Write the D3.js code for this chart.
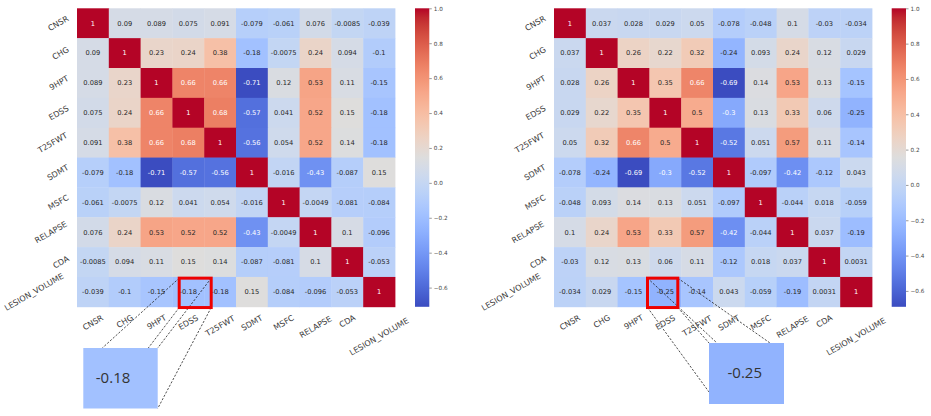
<!DOCTYPE html>
<meta charset="utf-8">
<style>
	body { margin: 0; background: #fff; }
	svg text { font-family: "DejaVu Sans", sans-serif; }
	.callout-text { font-family: "Open Sans", "Noto Sans", sans-serif; }
</style>
<body>
<svg id="chart" width="931" height="416"></svg>
<script src="https://cdn.jsdelivr.net/npm/d3@7"></script>
<script>

	var labels = ["CNSR", "CHG", "9HPT", "EDSS", "T25FWT", "SDMT", "MSFC", "RELAPSE", "CDA", "LESION_VOLUME"];

	// correlation matrix, left panel
	var leftValues = [
		[1, 0.09, 0.089, 0.075, 0.091, -0.079, -0.061, 0.076, -0.0085, -0.039],
		[0.09, 1, 0.23, 0.24, 0.38, -0.18, -0.0075, 0.24, 0.094, -0.1],
		[0.089, 0.23, 1, 0.66, 0.66, -0.71, 0.12, 0.53, 0.11, -0.15],
		[0.075, 0.24, 0.66, 1, 0.68, -0.57, 0.041, 0.52, 0.15, -0.18],
		[0.091, 0.38, 0.66, 0.68, 1, -0.56, 0.054, 0.52, 0.14, -0.18],
		[-0.079, -0.18, -0.71, -0.57, -0.56, 1, -0.016, -0.43, -0.087, 0.15],
		[-0.061, -0.0075, 0.12, 0.041, 0.054, -0.016, 1, -0.0049, -0.081, -0.084],
		[0.076, 0.24, 0.53, 0.52, 0.52, -0.43, -0.0049, 1, 0.1, -0.096],
		[-0.0085, 0.094, 0.11, 0.15, 0.14, -0.087, -0.081, 0.1, 1, -0.053],
		[-0.039, -0.1, -0.15, -0.18, -0.18, 0.15, -0.084, -0.096, -0.053, 1]
	];

	// correlation matrix, right panel
	var rightValues = [
		[1, 0.037, 0.028, 0.029, 0.05, -0.078, -0.048, 0.1, -0.03, -0.034],
		[0.037, 1, 0.26, 0.22, 0.32, -0.24, 0.093, 0.24, 0.12, 0.029],
		[0.028, 0.26, 1, 0.35, 0.66, -0.69, 0.14, 0.53, 0.13, -0.15],
		[0.029, 0.22, 0.35, 1, 0.5, -0.3, 0.13, 0.33, 0.06, -0.25],
		[0.05, 0.32, 0.66, 0.5, 1, -0.52, 0.051, 0.57, 0.11, -0.14],
		[-0.078, -0.24, -0.69, -0.3, -0.52, 1, -0.097, -0.42, -0.12, 0.043],
		[-0.048, 0.093, 0.14, 0.13, 0.051, -0.097, 1, -0.044, 0.018, -0.059],
		[0.1, 0.24, 0.53, 0.33, 0.57, -0.42, -0.044, 1, 0.037, -0.19],
		[-0.03, 0.12, 0.13, 0.06, 0.11, -0.12, 0.018, 0.037, 1, 0.0031],
		[-0.034, 0.029, -0.15, -0.25, -0.14, 0.043, -0.059, -0.19, 0.0031, 1]
	];

	var colorbarTicks = [-0.6, -0.4, -0.2, 0.0, 0.2, 0.4, 0.6, 0.8, 1.0];

	// highlighted cell of each panel
	var highlightRow = "LESION_VOLUME";
	var highlightCol = "EDSS";

	// coolwarm (Moreland) table
	var coolwarm = [
		[59,76,192],[68,90,204],[77,104,215],[87,117,225],[98,130,234],[108,142,241],
		[119,154,247],[130,165,251],[141,176,254],[152,185,255],[163,194,255],[174,201,253],
		[184,208,249],[194,213,244],[204,217,238],[213,219,230],[221,221,221],[229,216,209],
		[236,211,197],[241,204,184],[245,196,172],[247,187,160],[247,177,148],[247,166,137],
		[244,154,123],[241,141,112],[236,127,99],[229,112,88],[222,96,77],[213,80,66],
		[203,62,56],[192,40,47],[180,4,38]
	].map(function(c) { return d3.rgb(c[0], c[1], c[2]).toString(); });

	var svg = d3.select("#chart");
	var defs = svg.append("defs");

	var gridTop = 8.3, gridBottom = 306.8, gridW = 318;
	var tickFont = 8, annFont = 6.7, cbFont = 5.7;
	var ang = 30 * Math.PI / 180;

	function lum(c) {
		c = d3.rgb(c);
		var f = function(v) { v /= 255; return v <= 0.03928 ? v / 12.92 : Math.pow((v + 0.055) / 1.055, 2.4); };
		return 0.2126 * f(c.r) + 0.7152 * f(c.g) + 0.0722 * f(c.b);
	}

	function drawPanel(values, x0, cbX, id, box) {
		var flat = d3.merge(values);
		var vmin = d3.min(flat), vmax = d3.max(flat);
		var color = d3.scaleLinear()
			.domain(d3.range(33).map(function(i) { return vmin + (vmax - vmin) * i / 32; }))
			.range(coolwarm)
			.interpolate(d3.interpolateRgb);

		var x = d3.scaleBand().domain(labels).range([x0, x0 + gridW]);
		var y = d3.scaleBand().domain(labels).range([gridTop, gridBottom]);

		var g = svg.append("g");

		var cells = [];
		values.forEach(function(row, i) {
			row.forEach(function(v, j) { cells.push({r: labels[i], c: labels[j], v: v}); });
		});

		g.selectAll("rect.cell").data(cells).enter().append("rect")
			.attr("class", "cell")
			.attr("x", function(d) { return x(d.c); })
			.attr("y", function(d) { return y(d.r); })
			.attr("width", x.bandwidth() + 0.4)
			.attr("height", y.bandwidth() + 0.4)
			.attr("fill", function(d) { return color(d.v); });

		g.selectAll("text.ann").data(cells).enter().append("text")
			.attr("class", "ann")
			.attr("x", function(d) { return x(d.c) + x.bandwidth() / 2; })
			.attr("y", function(d) { return y(d.r) + y.bandwidth() / 2; })
			.attr("dy", "0.35em")
			.attr("text-anchor", "middle")
			.style("font-size", annFont + "px")
			.attr("fill", function(d) { return lum(color(d.v)) > 0.408 ? "#262626" : "#fff"; })
			.text(function(d) { return String(d.v); });

		// x axis labels
		var xAxis = g.append("g")
			.attr("transform", "translate(0," + gridBottom + ")")
			.call(d3.axisBottom(x).tickSize(0));
		xAxis.select(".domain").remove();
		xAxis.selectAll(".tick text").each(function() {
			var w = this.getComputedTextLength();
			var cy = 6.3 + (w * Math.sin(ang) + 0.75 * tickFont * Math.cos(ang)) / 2;
			d3.select(this).attr("x", 0).attr("y", cy).attr("dy", "0.35em")
				.attr("text-anchor", "middle")
				.attr("transform", "rotate(-30,0," + cy + ")");
		});

		// y axis labels
		var yAxis = g.append("g")
			.attr("transform", "translate(" + x0 + ",0)")
			.call(d3.axisLeft(y).tickSize(0));
		yAxis.select(".domain").remove();
		yAxis.selectAll(".tick text").each(function() {
			var w = this.getComputedTextLength();
			var cx = -5.3 - (w * Math.cos(ang) + 0.75 * tickFont * Math.sin(ang)) / 2;
			d3.select(this).attr("x", cx).attr("y", 0).attr("dy", "0.35em")
				.attr("text-anchor", "middle")
				.attr("transform", "rotate(-30," + cx + ",0)");
		});

		g.selectAll(".tick text").style("font-size", tickFont + "px").attr("fill", "#3a3a3a");

		// colorbar
		var grad = defs.append("linearGradient").attr("id", id)
			.attr("x1", 0).attr("y1", 1).attr("x2", 0).attr("y2", 0);
		grad.selectAll("stop").data(d3.range(33)).enter().append("stop")
			.attr("offset", function(i) { return i / 32; })
			.attr("stop-color", function(i) { return coolwarm[i]; });

		var cb = d3.scaleLinear().domain([vmin, vmax]).range([gridBottom, gridTop]);
		g.append("rect")
			.attr("x", cbX).attr("y", gridTop)
			.attr("width", 14.3).attr("height", gridBottom - gridTop)
			.attr("fill", "url(#" + id + ")");
		var cbAxis = g.append("g")
			.attr("transform", "translate(" + (cbX + 14.3) + ",0)")
			.call(d3.axisRight(cb).tickValues(colorbarTicks).tickSize(2.5).tickPadding(2).tickFormat(d3.format(".1f")));
		cbAxis.select(".domain").remove();
		cbAxis.selectAll("line").attr("stroke", "#555").attr("stroke-width", 0.6);
		cbAxis.selectAll("text").style("font-size", cbFont + "px").attr("fill", "#444");

		// highlight box + callout
		var v = values[labels.indexOf(highlightRow)][labels.indexOf(highlightCol)];
		var rx = x(highlightCol) + box.dx, ry = y(highlightRow) + 1.2;
		var rw = box.w, rh = 29.4;
		var corner = {
			tl: [rx, ry], tr: [rx + rw, ry],
			bl: [rx, ry + rh], br: [rx + rw, ry + rh]
		};
		var c = box.callout;

		g.selectAll("line.link").data(box.links).enter().append("line")
			.attr("class", "link")
			.attr("x1", function(d) { return corner[d[0]][0]; })
			.attr("y1", function(d) { return corner[d[0]][1]; })
			.attr("x2", function(d) { return c.x + d[1]; })
			.attr("y2", function(d) { return c.y + d[2]; })
			.attr("stroke", "#222")
			.attr("stroke-width", 0.8)
			.attr("stroke-dasharray", "2.2,1.6");

		g.append("rect")
			.attr("x", rx).attr("y", ry).attr("width", rw).attr("height", rh)
			.attr("fill", "none").attr("stroke", "#ee0000").attr("stroke-width", 3);

		g.append("rect")
			.attr("x", c.x).attr("y", c.y).attr("width", c.w).attr("height", c.h)
			.attr("fill", color(v));
		g.append("text")
			.attr("class", "callout-text")
			.attr("x", c.x + c.tx).attr("y", c.y + 30)
			.attr("dy", "0.35em")
			.style("font-size", "15px")
			.attr("fill", "#333")
			.text(String(v));
	}

	drawPanel(leftValues, 77, 415, "cbLeft", {
		dx: 6.8, w: 32,
		callout: {x: 83.3, y: 348, w: 74.4, h: 60.5, tx: 12.5},
		links: [["tl", 19, 0], ["bl", 65, 0], ["tr", 74.4, 0], ["br", 74.4, 60.5]]
	});

	drawPanel(rightValues, 554, 891.7, "cbRight", {
		dx: -1.9, w: 30.3,
		callout: {x: 709, y: 343, w: 75, h: 61, tx: 18.5},
		links: [["bl", 0, 49], ["br", 0, 0], ["tl", 8, 0], ["tr", 61, 0]]
	});

</script>
</body>
